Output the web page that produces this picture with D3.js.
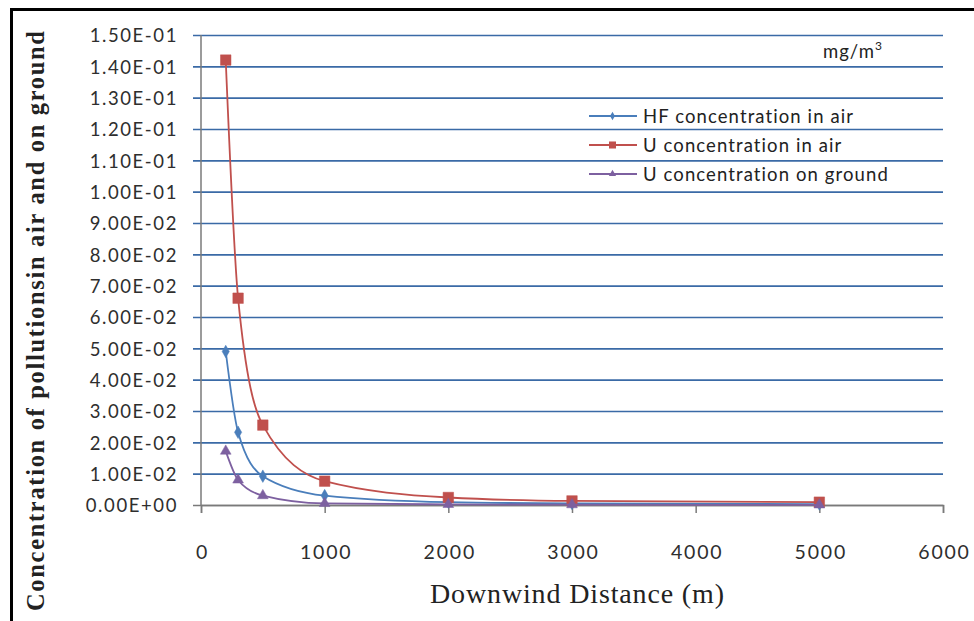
<!DOCTYPE html>
<html>
<head>
<meta charset="utf-8">
<script src="https://cdn.jsdelivr.net/npm/d3@7/dist/d3.min.js"></script>
<style>
  html, body { margin: 0; padding: 0; background: #fff; }
  svg { display: block; }
</style>
</head>
<body>
<svg id="chart" width="974" height="621"></svg>
<script>
// Downwind distances (m)
const distances = [200, 300, 500, 1000, 2000, 3000, 5000];
// Concentrations (mg/m3)
const hfAir    = [0.049, 0.0232, 0.0092, 0.0030, 0.0009, 0.0005, 0.0003];
const uAir     = [0.142, 0.066, 0.0255, 0.0076, 0.0024, 0.0013, 0.0009];
const uGround  = [0.0172, 0.0080, 0.0030, 0.0005, 0.0002, 0.0001, 0.00005];
const seriesNames = ["HF concentration in air", "U concentration in air", "U concentration on ground"];
const xTicks = [0, 1000, 2000, 3000, 4000, 5000, 6000];
const yTicks = d3.range(0, 16).map(i => i * 0.01);

(function () {
const svg = d3.select("#chart");
const W = 974, H = 621;

// frame
svg.append("rect").attr("x", 0).attr("y", 0).attr("width", W).attr("height", H).attr("fill", "#fff");
svg.append("path").attr("d", "M11.5,625 V9.5 H980").attr("fill", "none").attr("stroke", "#000").attr("stroke-width", 3);

const pl = 201, pr = 943, pt = 35, pb = 505;
const x = d3.scaleLinear().domain([0, 6000]).range([pl, pr]);
const y = d3.scaleLinear().domain([0, 0.15]).range([pb, pt]);

const labelFont = "Lato, 'Open Sans', sans-serif";
const serif = "'Liberation Serif', 'Times New Roman', serif";

// scientific tick format in the style 1.50E-01
const sci = d => {
  const m = d3.format(".2e")(d).match(/^(-?[\d.]+)e([+-])(\d+)$/);
  return m[1] + "E" + m[2] + (m[3].length < 2 ? "0" + m[3] : m[3]);
};

// horizontal gridlines with outward ticks
const yAxis = d3.axisLeft(y).tickValues(yTicks).tickSize(-(pr - pl)).tickPadding(0).tickFormat(sci);
const gy = svg.append("g").attr("transform", `translate(${pl},0)`).call(yAxis);
gy.select(".domain").remove();
gy.selectAll(".tick line").attr("stroke", "#3a6aa6").attr("stroke-width", 1.6).attr("x1", -8)
  .filter(d => d === 0).attr("stroke", "#7a7a7a");
gy.selectAll(".tick text").attr("x", -23).attr("font-family", labelFont).attr("font-size", 18.5)
  .attr("letter-spacing", 1.6).attr("fill", "#2e2e2e").attr("dy", "0.36em");

// y axis line
svg.append("line").attr("x1", pl).attr("x2", pl).attr("y1", pt).attr("y2", pb)
  .attr("stroke", "#7a7a7a").attr("stroke-width", 1.5);

// x axis
const xAxis = d3.axisBottom(x).tickValues(xTicks).tickSize(8).tickPadding(32).tickFormat(d3.format("d"));
const gx = svg.append("g").attr("transform", `translate(0,${pb})`).call(xAxis);
gx.select(".domain").attr("stroke", "#7a7a7a").attr("stroke-width", 1.5);
gx.selectAll(".tick line").attr("stroke", "#7a7a7a").attr("stroke-width", 1.5);
gx.selectAll(".tick text").attr("font-family", labelFont).attr("font-size", 19.5)
  .attr("letter-spacing", 1.8).attr("dx", 1).attr("fill", "#2e2e2e");

// series
const series = [
  { name: seriesNames[0], values: hfAir,   color: "#4a7ebb", shape: d3.symbolDiamond, size: 45 },
  { name: seriesNames[1], values: uAir,    color: "#c0504d", shape: d3.symbolSquare,  size: 110 },
  { name: seriesNames[2], values: uGround, color: "#7d60a0", shape: d3.symbolTriangle, size: 50 }
];

const line = d3.line().x(d => x(d[0])).y(d => y(d[1])).curve(d3.curveMonotoneX);

series.forEach(s => {
  const pts = distances.map((d, i) => [d, s.values[i]]);
  svg.append("path").datum(pts).attr("d", line).attr("fill", "none")
    .attr("stroke", s.color).attr("stroke-width", 1.8);
  svg.append("g").selectAll("path").data(pts).join("path")
    .attr("transform", d => `translate(${x(d[0])},${y(d[1])})`)
    .attr("d", d3.symbol().type(s.shape).size(s.size))
    .attr("fill", s.color).attr("stroke", s.color).attr("stroke-width", 0.5);
});

// legend
const legend = svg.append("g");
series.forEach((s, i) => {
  const ly = 116 + i * 29;
  legend.append("line").attr("x1", 589).attr("x2", 637).attr("y1", ly).attr("y2", ly)
    .attr("stroke", s.color).attr("stroke-width", 1.8);
  legend.append("path").attr("transform", `translate(612.5,${ly})`)
    .attr("d", d3.symbol().type(s.shape).size(s.size * 0.45)).attr("fill", s.color);
  legend.append("text").attr("x", 643).attr("y", ly).attr("dy", "0.36em")
    .attr("font-family", labelFont).attr("font-size", 18.5).attr("letter-spacing", 1.1)
    .attr("fill", "#222").text(s.name);
});

// unit label
const unit = svg.append("text").attr("x", 823).attr("y", 58)
  .attr("font-family", labelFont).attr("font-size", 18.5).attr("letter-spacing", 1).attr("fill", "#222");
unit.append("tspan").text("mg/m");
unit.append("tspan").attr("dy", -8).attr("font-size", 12).text("3");

// axis titles
svg.append("text").attr("x", 577).attr("y", 603).attr("text-anchor", "middle")
  .attr("font-family", serif).attr("font-size", 28).attr("fill", "#222")
  .attr("textLength", 294).attr("lengthAdjust", "spacing").text("Downwind Distance (m)");
svg.append("text").attr("transform", "translate(44,321) rotate(-90)").attr("text-anchor", "middle")
  .attr("font-family", serif).attr("font-size", 24.5).attr("font-weight", "bold").attr("fill", "#222")
  .attr("textLength", 580).attr("lengthAdjust", "spacing")
  .text("Concentration of pollutionsin air and on ground");
})();
</script>
</body>
</html>
